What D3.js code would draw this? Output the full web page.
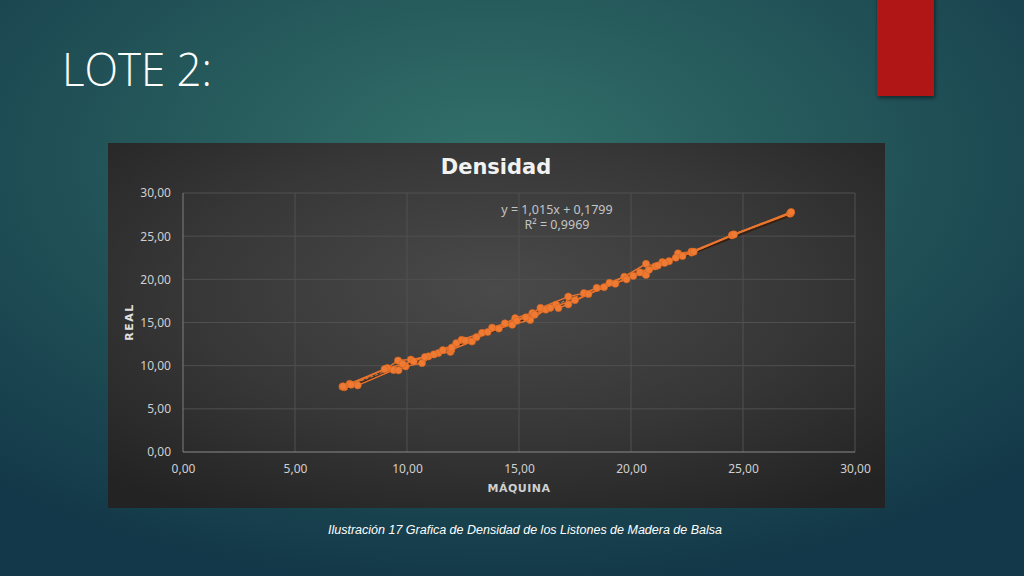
<!DOCTYPE html>
<html><head><meta charset="utf-8">
<script src="https://cdn.jsdelivr.net/npm/d3@7"></script>
<style>html,body{margin:0;padding:0;overflow:hidden;background:#163c4b;}</style>
</head><body>
<script>
// ---- data ----
const xTicks = [0,5,10,15,20,25,30];
const yTicks = [0,5,10,15,20,25,30];
const serieA_x = [7.12,7.44,9.12,9.6,10.17,10.96,11.4,12.2,12.44,13.35,13.8,14.37,14.83,15.6,15.96,17.2,17.9,18.47,19.04,19.7,20.67,21.08,21.4,21.7,22.1,22.7,24.54,27.13];
const serieA_y = [7.57,7.9,9.73,10.6,10.7,11.08,11.47,12.6,13.0,13.8,14.4,14.9,15.5,16.1,16.7,18.0,18.4,19.0,19.6,20.3,21.8,21.5,22.0,22.1,23.0,23.2,25.17,27.7];
const serieB_x = [7.2,7.8,9.4,9.62,9.94,10.67,11.2,11.94,11.98,12.9,13.6,14.7,15.5,16.2,16.65,16.76,17.2,18.1,19.3,20.1,20.6,20.67,21.2,22.0,22.7,24.5,27.1];
const serieB_y = [7.5,7.72,9.5,9.46,9.92,10.3,11.3,11.6,11.85,12.8,13.9,14.75,15.3,16.5,17.07,16.68,17.1,18.3,19.5,20.4,20.7,20.5,21.6,22.5,23.1,25.1,27.6];
const serieC_x = [7.15,7.5,9.0,9.8,10.3,10.8,11.6,12.0,12.6,13.1,14.1,14.9,15.3,15.7,16.4,17.5,18.8,19.8,20.4,20.8,21.5,22.3,22.8,24.6,27.15];
const serieC_y = [7.6,7.8,9.6,10.2,10.5,11.0,11.8,12.1,12.9,13.3,14.3,15.2,15.6,15.9,16.7,17.6,19.1,20.0,20.8,21.1,21.9,22.7,23.2,25.2,27.8];
const trendSlope = 1.015, trendIntercept = 0.1799;
const eqText = ["y = 1,015x + 0,1799", "R² = 0,9969"];

const W = 1024, H = 576;
const svg = d3.select("body").append("svg").attr("width", W).attr("height", H);
const defs = svg.append("defs");

// background gradient
const bg = defs.append("radialGradient").attr("id","bg").attr("cx","0.48").attr("cy","0.28").attr("r","0.75");
bg.append("stop").attr("offset","0").attr("stop-color","#33716a");
bg.append("stop").attr("offset","0.45").attr("stop-color","#24575a");
bg.append("stop").attr("offset","1").attr("stop-color","#133849");
svg.append("rect").attr("width",W).attr("height",H).attr("fill","url(#bg)");

// red bar
const sh = defs.append("filter").attr("id","sh").attr("x","-20%").attr("y","-20%").attr("width","150%").attr("height","150%");
sh.append("feDropShadow").attr("dx",1).attr("dy",2).attr("stdDeviation",2).attr("flood-color","#000").attr("flood-opacity",0.5);
svg.append("rect").attr("x",877).attr("y",-5).attr("width",57).attr("height",101).attr("fill","#b01717").attr("filter","url(#sh)");

// slide title
svg.append("text").attr("x",62).attr("y",86).text("LOTE 2:")
  .attr("font-family","'Open Sans', Lato, sans-serif").attr("font-weight",300)
  .attr("font-size",46).attr("fill","#ffffff").attr("textLength",150).attr("lengthAdjust","spacingAndGlyphs");

// chart panel
const pg = defs.append("radialGradient").attr("id","pg").attr("cx","0.5").attr("cy","0.4").attr("r","0.72");
pg.append("stop").attr("offset","0").attr("stop-color","#4a4a4a");
pg.append("stop").attr("offset","0.55").attr("stop-color","#373737");
pg.append("stop").attr("offset","1").attr("stop-color","#232323");
svg.append("rect").attr("x",108).attr("y",143).attr("width",777).attr("height",365).attr("fill","url(#pg)");

svg.append("text").attr("x",496).attr("y",174).attr("text-anchor","middle").text("Densidad")
  .attr("font-family","'DejaVu Sans', sans-serif").attr("font-weight","bold").attr("font-size",21).attr("fill","#f2f2f2");

const x = d3.scaleLinear().domain([0,30]).range([183,855]);
const y = d3.scaleLinear().domain([0,30]).range([452,193]);

// grid
const g = svg.append("g");
g.selectAll(".gx").data(xTicks.slice(1)).enter().append("line")
  .attr("x1",d=>x(d)).attr("x2",d=>x(d)).attr("y1",y(0)).attr("y2",y(30))
  .attr("stroke","#505050").attr("stroke-width",1);
g.selectAll(".gy").data(yTicks.slice(1)).enter().append("line")
  .attr("x1",x(0)).attr("x2",x(30)).attr("y1",d=>y(d)).attr("y2",d=>y(d))
  .attr("stroke","#505050").attr("stroke-width",1);
g.append("line").attr("x1",x(0)).attr("x2",x(30)).attr("y1",y(0)).attr("y2",y(0)).attr("stroke","#8a8a8a");
g.append("line").attr("x1",x(0)).attr("x2",x(0)).attr("y1",y(0)).attr("y2",y(30)).attr("stroke","#7e7e7e");

const fmt = d => d.toFixed(2).replace(".", ",");
const tickFont = "'Noto Sans', 'DejaVu Sans', sans-serif";
const xAxis = svg.append("g").attr("transform",`translate(0,${y(0)})`)
  .call(d3.axisBottom(x).tickValues(xTicks).tickFormat(fmt).tickSize(0).tickPadding(12));
const yAxis = svg.append("g").attr("transform",`translate(${x(0)},0)`)
  .call(d3.axisLeft(y).tickValues(yTicks).tickFormat(fmt).tickSize(0).tickPadding(12));
[xAxis,yAxis].forEach(a=>{
  a.select(".domain").remove();
  a.selectAll("text").attr("fill","#cfcfcf").attr("font-family",tickFont).attr("font-size",12);
});

svg.append("text").attr("x",519).attr("y",492).attr("text-anchor","middle").text("MÁQUINA")
  .attr("font-family","'DejaVu Sans', sans-serif").attr("font-weight","bold").attr("font-size",11).attr("fill","#cfcfcf").attr("letter-spacing",0.5);
svg.append("text").attr("transform","translate(133,322) rotate(-90)").attr("text-anchor","middle").text("REAL")
  .attr("font-family","'DejaVu Sans', sans-serif").attr("font-weight","bold").attr("font-size",11).attr("fill","#e0e0e0").attr("letter-spacing",1.5);

// series
const series = [[serieA_x,serieA_y],[serieB_x,serieB_y],[serieC_x,serieC_y]];
const line = d3.line().x(d=>x(d[0])).y(d=>y(d[1]));
const plot = svg.append("g");
// trendline
const tx = [d3.min(series, s=>d3.min(s[0])), d3.max(series, s=>d3.max(s[0]))];
plot.append("path").datum(tx.map(v=>[v, trendSlope*v+trendIntercept])).attr("d",line)
  .attr("stroke","#3a1c08").attr("stroke-width",1.5).attr("fill","none").attr("transform","translate(1,2)");
series.forEach(s=>{
  const pts = s[0].map((v,i)=>[v,s[1][i]]);
  plot.append("path").datum(pts).attr("d",line).attr("fill","none").attr("stroke","#e8742e").attr("stroke-width",1.5);
});
plot.append("path").datum(tx.map(v=>[v, trendSlope*v+trendIntercept])).attr("d",line)
  .attr("stroke","#f07a30").attr("stroke-width",1).attr("stroke-dasharray","3,2").attr("fill","none");
series.forEach(s=>{
  const pts = s[0].map((v,i)=>[v,s[1][i]]);
  plot.selectAll(null).data(pts).enter().append("circle")
    .attr("cx",d=>x(d[0])).attr("cy",d=>y(d[1])).attr("r",3.6)
    .attr("fill","#ee7a33").attr("stroke","#d9651f").attr("stroke-width",0.6);
});

// equation
svg.append("text").attr("x",557).attr("y",214).attr("text-anchor","middle").text(eqText[0])
  .attr("font-family",tickFont).attr("font-size",12.5).attr("fill","#c4c4c4");
svg.append("text").attr("x",557).attr("y",229).attr("text-anchor","middle").text(eqText[1])
  .attr("font-family",tickFont).attr("font-size",12.5).attr("fill","#c4c4c4");

// caption
svg.append("text").attr("x",525).attr("y",534).attr("text-anchor","middle")
  .text("Ilustración 17 Grafica de Densidad de los Listones de Madera de Balsa")
  .attr("font-family","'Liberation Sans', Arial, sans-serif").attr("font-style","italic").attr("font-size",12.5).attr("fill","#ffffff");
</script>
</body></html>
